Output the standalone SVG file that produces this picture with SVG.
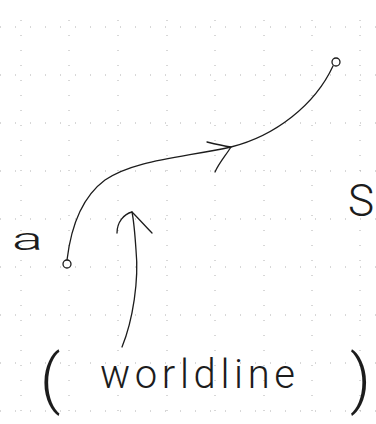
<svg xmlns="http://www.w3.org/2000/svg" width="376" height="424" viewBox="0 0 376 424">
  <style>
    .grid line { stroke: #b0b0b0; stroke-width: 1; stroke-dasharray: 1 14; }
    .ink { fill: none; stroke: #1c1c1c; stroke-width: 1.3; stroke-linecap: round; stroke-linejoin: round; }
    .dot { fill: #ffffff; stroke: #1c1c1c; stroke-width: 1.3; }
    .hand { font-family: "Roboto", "Open Sans", "Liberation Sans", sans-serif; font-weight: 300; fill: #1c1c1c; }
  </style>
  <rect width="376" height="424" fill="#ffffff"/>
  <g id="grid" class="grid">
    <line x1="0" y1="27" x2="376" y2="27"/>
    <line x1="0" y1="75" x2="376" y2="75"/>
    <line x1="0" y1="123" x2="376" y2="123"/>
    <line x1="0" y1="171" x2="376" y2="171"/>
    <line x1="0" y1="219" x2="376" y2="219"/>
    <line x1="0" y1="267" x2="376" y2="267"/>
    <line x1="0" y1="315" x2="376" y2="315"/>
    <line x1="0" y1="363" x2="376" y2="363"/>
    <line x1="0" y1="411" x2="376" y2="411"/>
    <line x1="21" y1="20" x2="21" y2="424"/>
    <line x1="69" y1="20" x2="69" y2="424"/>
    <line x1="118" y1="20" x2="118" y2="424"/>
    <line x1="167" y1="20" x2="167" y2="424"/>
    <line x1="215" y1="20" x2="215" y2="424"/>
    <line x1="264" y1="20" x2="264" y2="424"/>
    <line x1="312" y1="20" x2="312" y2="424"/>
    <line x1="360" y1="20" x2="360" y2="424"/>
  </g>
  <g id="connectors">
    <path class="ink" d="M67,260 C70,235 78,200 105,180 C135,160 180,158 231,147 C275,136 315,105 333,66"/>
    <path class="ink" d="M207,142 C215,144 224,146 231,147 C226,155 219,163 215,172"/>
    <path class="ink" d="M122,347 C133,320 139,280 136,250 C135,235 134,222 132,212"/>
    <path class="ink" d="M117,233 C117,222 124,214 132,212 C139,219 146,227 152,233"/>
  </g>
  <g id="node-start">
    <circle class="dot" cx="67" cy="264" r="4"/>
  </g>
  <g id="node-end">
    <circle class="dot" cx="336" cy="62" r="4"/>
  </g>
  <g id="label-a">
    <text class="hand" x="12" y="250" font-size="32" textLength="31" lengthAdjust="spacingAndGlyphs">a</text>
  </g>
  <g id="label-S">
    <text class="hand" x="348" y="216" font-size="44">S</text>
  </g>
  <g id="label-worldline">
    <text class="hand"><tspan x="40" y="401" font-size="64">(</tspan><tspan x="100" y="388" font-size="40" textLength="195" lengthAdjust="spacing">worldline</tspan><tspan x="350" y="401" font-size="64">)</tspan></text>
  </g>
</svg>
